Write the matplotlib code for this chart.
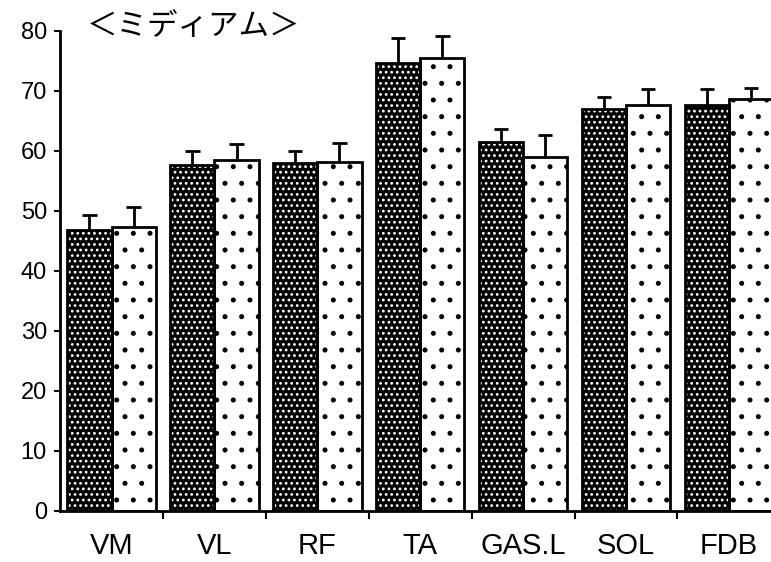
import matplotlib.pyplot as plt
import numpy as np

muscles = ["VM", "VL", "RF", "TA", "GAS.L", "SOL", "FDB"]
dark_vals = [46.8, 57.7, 58.0, 74.7, 61.5, 67.0, 67.7]
dark_err = [2.5, 2.3, 2.0, 4.1, 2.2, 2.0, 2.6]
light_vals = [47.3, 58.5, 58.2, 75.5, 59.0, 67.7, 68.7]
light_err = [3.3, 2.6, 3.1, 3.6, 3.6, 2.6, 1.8]
yticks = [0, 10, 20, 30, 40, 50, 60, 70, 80]
title = "＜ミディアム＞"

plt.rcParams["font.family"] = ["Liberation Sans", "DejaVu Sans"]
plt.rcParams["hatch.linewidth"] = 1.2


def draw_group(ax, x, vals, err, face, dots, dot_color):
    # plain fill, then dots on top, then the outline
    ax.bar(x, vals, width=w, color=face, linewidth=0, zorder=2)
    ax.bar(x, vals, width=w, color="none", edgecolor=dot_color,
           hatch=dots, linewidth=0, zorder=3)
    ax.bar(x, vals, width=w, color="none", edgecolor="black",
           linewidth=2, zorder=4)
    tops = np.array(vals) + np.array(err)
    ax.vlines(x, vals, tops, color="black", linewidth=2, zorder=5)
    ax.hlines(tops, x - 0.07, x + 0.07, color="black", linewidth=2, zorder=5)


fig = plt.figure(figsize=(7.71, 5.62), dpi=100)
ax = fig.add_axes([0.078, 0.091, 0.922, 0.854])

x = np.arange(len(muscles))
w = 0.43
draw_group(ax, x - w / 2, dark_vals, dark_err, "black", "...", "white")
draw_group(ax, x + w / 2, light_vals, light_err, "white", ".", "black")

ax.set_xlim(-0.5, 6.41)
ax.set_ylim(0, 80)
ax.set_yticks(yticks)
ax.tick_params(axis="y", direction="out", length=4.5, width=1.5,
               labelsize=17, pad=5)
ax.set_xticks(x)
ax.set_xticklabels(muscles)
ax.tick_params(axis="x", which="major", length=0, labelsize=21, pad=15)
ax.set_xticks(np.arange(0.5, len(muscles) - 0.5), minor=True)
ax.tick_params(axis="x", which="minor", direction="out", length=6, width=1.5)

for side in ["top", "right"]:
    ax.spines[side].set_visible(False)
for side in ["left", "bottom"]:
    ax.spines[side].set_linewidth(2)
    ax.spines[side].set_zorder(6)

fig.text(0.112, 0.952, title, fontsize=22, va="center", ha="left",
         family=["Noto Sans CJK JP", "DejaVu Sans"])

fig.savefig("out.png", dpi=100)
